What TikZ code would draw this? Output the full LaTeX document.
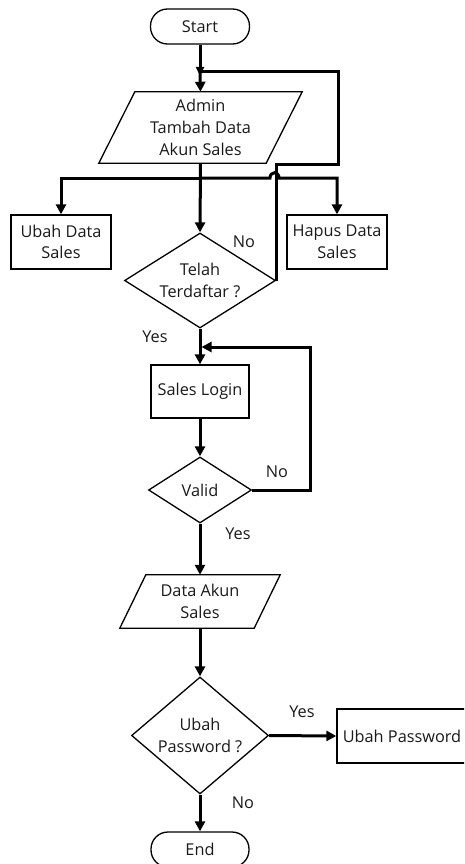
\documentclass[tikz,border=0pt]{standalone}
\usepackage{fontspec}
\setmainfont{Open Sans}
\usetikzlibrary{arrows.meta,shapes.geometric,calc}
\begin{document}
\begin{tikzpicture}[x=1pt,y=-1pt,
  every node/.style={font=\fontsize{16.3}{21.7}\selectfont, align=center, inner sep=0pt, text=black!90},
  outline/.style={draw, line width=1.3pt},
  box/.style 2 args={outline, minimum width=#1, minimum height=#2},
  term/.style 2 args={box={#1}{#2}, rounded corners=17pt},
  iobox/.style 2 args={minimum width=#1, minimum height=#2},
  decision/.style n args={3}{diamond, outline, aspect=#3, minimum width=#1, minimum height=#2},
  conn/.style={line width=3pt},
  arr/.style={conn, -{Triangle[length=10pt,width=10pt]}},
  lbl/.style={}]

\useasboundingbox (0,0) rectangle (464,864);
\clip (0,0) rectangle (464,864);

% blocks
\node[term={99}{35}] (start) at (200,26.5) {Start};
\node[iobox={203}{71}] (admin) at (200.5,127.5) {Admin\\Tambah Data\\Akun Sales};
\node[box={100}{54}] (ubah) at (61,242) {Ubah Data\\Sales};
\node[box={100}{54}] (hapus) at (337,242) {Hapus Data\\Sales};
\node[decision={151}{95}{1.59}] (daftar) at (200,280.5) {Telah\\Terdaftar ?};
\node[box={98}{53}] (login) at (200,391.5) {Sales Login};
\node[decision={103}{66}{1.56}] (valid) at (200,490) {Valid};
\node[iobox={160}{53}] (akun) at (200,601.5) {Data Akun\\Sales};
\node[decision={137}{117}{1.17}] (ubahpw) at (200,735.5) {Ubah\\Password ?};
\node[box={130}{54}] (pw) at (402,736) {Ubah Password};
\node[term={98}{35}] (end) at (200,849.5) {End};

% slanted outlines of the data blocks
\draw[outline] ($(admin.north west)+(36,0)$) -- (admin.north east)
  -- ($(admin.south east)-(36,0)$) -- (admin.south west) -- cycle;
\draw[outline] ($(akun.north west)+(26,0)$) -- (akun.north east)
  -- ($(akun.south east)-(26,0)$) -- (akun.south west) -- cycle;

% branch labels
\node[lbl] (nodaftar) at (244,242) {No};
\node[lbl] (yesdaftar) at (155,337) {Yes};
\node[lbl] (novalid) at (277,472) {No};
\node[lbl] (yesvalid) at (238,534) {Yes};
\node[lbl] (yespw) at (302,712) {Yes};
\node[lbl] (nopw) at (243,803) {No};

% junctions
\coordinate (jtop) at (200,72);
\coordinate (split) at (200,178);
\coordinate (jlog) at (200,347);

% connectors
\draw[conn, -{Triangle[length=9pt,width=8pt]}] (start.south) -- ($(jtop)+(0,4)$);
\draw[arr] (jtop) -- (admin.north);
\draw[arr] (admin.south) -- (daftar.north);
\draw[arr] (split) -| (ubah.north);
\draw[arr] (split) -- (270,178) .. controls (270,171) and (279,171) .. (279,178) -| (hapus.north);
\draw[conn] (daftar.east) |- (338,164) |- (jtop);
\draw[arr] (daftar.south) -- (login.north);
\draw[arr] (login.south) -- (valid.north);
\draw[arr] (valid.east) -- (310,490) |- ($(jlog)+(1.5,0)$);
\draw[arr] (valid.south) -- (akun.north);
\draw[arr] (akun.south) -- (ubahpw.north);
\draw[arr] (ubahpw.east) -- (pw.west);
\draw[arr] (ubahpw.south) -- (end.north);
\end{tikzpicture}
\end{document}
